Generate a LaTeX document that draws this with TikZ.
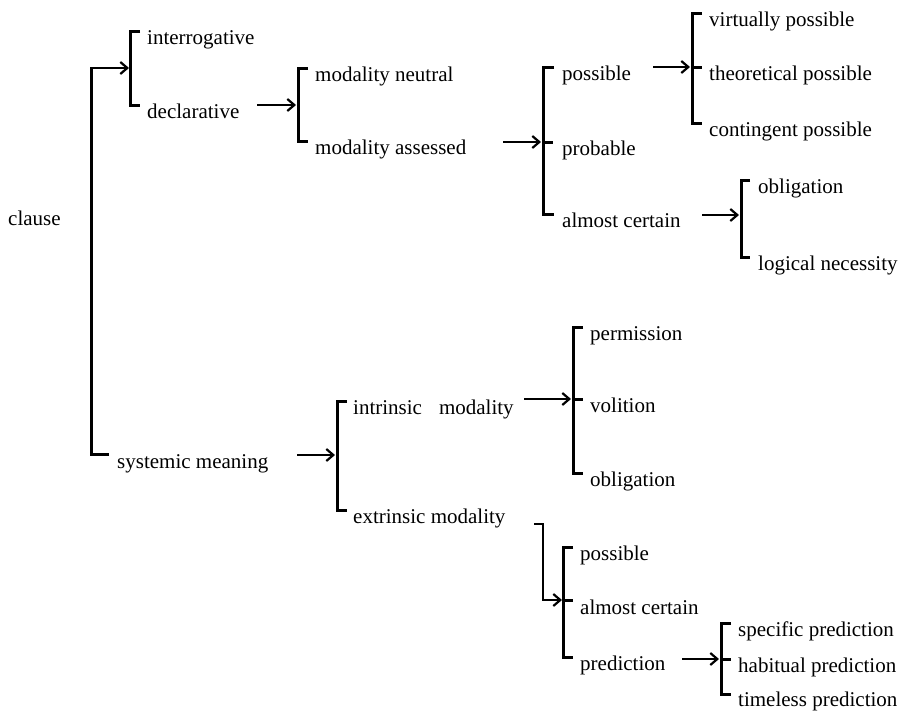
\documentclass[tikz,border=0pt]{standalone}
\usepackage{fontspec}
\setmainfont{Liberation Serif}
\usetikzlibrary{arrows.meta}
\begin{document}
\begin{tikzpicture}[x=1pt,y=-1pt,
  lbl/.style={anchor=base west,inner sep=0pt,font=\fontsize{21}{25}\selectfont},
  brk/.style={line width=3pt,line join=miter},
  arr/.style={line width=2pt,line join=miter,-{Straight Barb[length=7pt,width=12pt,line width=2.2pt]}}]
\useasboundingbox (0,0) rectangle (903,712);

% ---- labels ----
\node[lbl] (clause) at (8,225) {clause};
\node[lbl] (interr) at (147,45) {interrogative};
\node[lbl] (decl) at (147,118) {declarative};
\node[lbl] (sysm) at (117,468) {systemic meaning};
\node[lbl] (mneut) at (315,81) {modality neutral};
\node[lbl] (mass) at (315,154) {modality assessed};
\node[lbl] (poss) at (562,80) {possible};
\node[lbl] (prob) at (562,155) {probable};
\node[lbl] (alm) at (562,227) {almost certain};
\node[lbl] (virt) at (709,26) {virtually possible};
\node[lbl] (theo) at (709,80) {theoretical possible};
\node[lbl] (cont) at (709,136) {contingent possible};
\node[lbl] (oblA) at (758,193) {obligation};
\node[lbl] (logn) at (758,270) {logical necessity};
\node[lbl] (intr) at (353,414) {intrinsic\hspace{17pt}modality};
\node[lbl] (extr) at (353,523) {extrinsic modality};
\node[lbl] (perm) at (590,340) {permission};
\node[lbl] (voli) at (590,412) {volition};
\node[lbl] (oblB) at (590,486) {obligation};
\node[lbl] (possB) at (580,560) {possible};
\node[lbl] (almB) at (580,614) {almost certain};
\node[lbl] (pred) at (580,670) {prediction};
\node[lbl] (spec) at (738,636) {specific prediction};
\node[lbl] (habi) at (738,672) {habitual prediction};
\node[lbl] (timl) at (738,706) {timeless prediction};

% ---- brackets ----
% main clause bracket
\coordinate (mainTop) at (91,68);
\coordinate (mainBot) at (91,454);
\coordinate (interrMid) at (130,68);
\draw[brk] (109,454) -- (mainBot) -- (mainTop) -- (93,68);
\draw[arr] (mainTop) -- ([xshift=-1pt]interrMid);
% interrogative / declarative
\draw[brk] (140,31) -- (130,31) -- (130,105) -- (140,105);
% modality neutral / assessed
\coordinate (modMid) at (298,105);
\draw[brk] (308,68) -- (298,68) -- (298,141) -- (308,141);
\coordinate (declOut) at (257,105);
\draw[arr] (declOut) -- ([xshift=-2pt]modMid);
% possible / probable / almost certain
\coordinate (possMid) at (543,142);
\draw[brk] (554,67) -- (543,67) -- (543,214) -- (554,214);
\draw[brk] (possMid) -- (553,142);
\coordinate (massOut) at (503,142);
\draw[arr] (massOut) -- ([xshift=-2pt]possMid);
% virtually / theoretical / contingent
\coordinate (virtMid) at (692,67);
\draw[brk] (702,13) -- (692,13) -- (692,123) -- (702,123);
\draw[brk] (virtMid) -- (702,67);
\coordinate (possOut) at (653,67);
\draw[arr] (possOut) -- ([xshift=-2pt]virtMid);
% obligation / logical necessity
\coordinate (oblMid) at (741,215);
\draw[brk] (750,180) -- (741,180) -- (741,257) -- (750,257);
\coordinate (almOut) at (702,215);
\draw[arr] (almOut) -- ([xshift=-2pt]oblMid);
% intrinsic / extrinsic
\coordinate (intMid) at (337,455);
\draw[brk] (347,401) -- (337,401) -- (337,510) -- (347,510);
\coordinate (sysOut) at (297,455);
\draw[arr] (sysOut) -- ([xshift=-2pt]intMid);
% permission / volition / obligation
\coordinate (permMid) at (573,399);
\draw[brk] (583,327) -- (573,327) -- (573,473) -- (583,473);
\draw[brk] (permMid) -- (583,399);
\coordinate (intrOut) at (524,399);
\draw[arr] (intrOut) -- ([xshift=-2pt]permMid);
% extrinsic -> possible / almost certain / prediction
\coordinate (extOut) at (534,524);
\coordinate (extCorner) at (543,600);
\coordinate (possBMid) at (563,600);
\draw[brk] (573,547) -- (563,547) -- (563,657) -- (573,657);
\draw[brk] (possBMid) -- (573,600);
\draw[arr] (extOut) -- (543,524) -- (extCorner) -- ([xshift=-1pt]possBMid);
% specific / habitual / timeless
\coordinate (specMid) at (721,659);
\draw[brk] (731,623) -- (721,623) -- (721,694) -- (731,694);
\draw[brk] (specMid) -- (731,659);
\coordinate (predOut) at (682,659);
\draw[arr] (predOut) -- ([xshift=-2pt]specMid);
\end{tikzpicture}
\end{document}
